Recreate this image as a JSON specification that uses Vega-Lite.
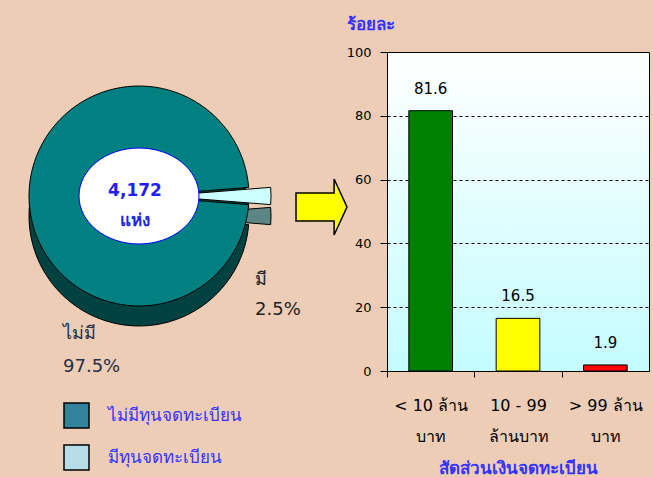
{
  "$schema": "https://vega.github.io/schema/vega-lite/v6.json",
  "background": "#EDCDB5",
  "padding": {"left": 0, "top": 14, "right": 4, "bottom": 0},
  "spacing": 0,
  "bounds": "flush",
  "resolve": {"scale": {"color": "independent", "theta": "independent"}, "legend": {"color": "independent"}},
  "config": {"font": "DejaVu Sans, Tahoma, sans-serif", "view": {"stroke": null}},
  "hconcat": [
    {
      "width": 278,
      "height": 288,
      "view": {"stroke": null, "fill": "#EDCDB5"},
      "data": {"values": [
        {"status": "มี", "legend": "มีทุนจดทะเบียน", "pct": 2.5, "order": 1, "label": "มี\n2.5%"},
        {"status": "ไม่มี", "legend": "ไม่มีทุนจดทะเบียน", "pct": 97.5, "order": 2, "label": "ไม่มี\n97.5%"}
      ]},
      "layer": [
        {
          "transform": [{"stack": "pct", "groupby": [], "sort": [{"field": "order", "order": "ascending"}], "as": ["p0", "p1"]}, {"filter": "datum.status == 'ไม่มี'"}],
          "mark": {"type": "arc", "radius": 110, "yOffset": 20, "fill": "#004242", "stroke": "#000", "strokeWidth": 1},
          "encoding": {"theta": {"field": "p0", "type": "quantitative", "scale": {"domain": [0, 100], "range": [1.4923, 7.7755]}}, "theta2": {"field": "p1"}}
        },
        {
          "transform": [{"stack": "pct", "groupby": [], "sort": [{"field": "order", "order": "ascending"}], "as": ["p0", "p1"]}, {"filter": "datum.status == 'มี'"}],
          "mark": {"type": "arc", "radius": 110, "xOffset": 22, "yOffset": 20, "fill": "#5E8585", "stroke": "#000", "strokeWidth": 1},
          "encoding": {"theta": {"field": "p0", "type": "quantitative", "scale": {"domain": [0, 100], "range": [1.4923, 7.7755]}}, "theta2": {"field": "p1"}}
        },
        {
          "transform": [{"stack": "pct", "groupby": [], "sort": [{"field": "order", "order": "ascending"}], "as": ["p0", "p1"]}, {"filter": "datum.status == 'ไม่มี'"}],
          "mark": {"type": "arc", "radius": 110, "fill": "#008080", "stroke": "#000", "strokeWidth": 1},
          "encoding": {"theta": {"field": "p0", "type": "quantitative", "scale": {"domain": [0, 100], "range": [1.4923, 7.7755]}}, "theta2": {"field": "p1"}}
        },
        {
          "transform": [{"stack": "pct", "groupby": [], "sort": [{"field": "order", "order": "ascending"}], "as": ["p0", "p1"]}, {"filter": "datum.status == 'มี'"}],
          "mark": {"type": "arc", "radius": 110, "xOffset": 22, "fill": "#CCFFFF", "stroke": "#000", "strokeWidth": 1},
          "encoding": {"theta": {"field": "p0", "type": "quantitative", "scale": {"domain": [0, 100], "range": [1.4923, 7.7755]}}, "theta2": {"field": "p1"}}
        },
        {
          "transform": [{"stack": "pct", "groupby": [], "sort": [{"field": "order", "order": "ascending"}], "as": ["p0", "p1"]}],
          "mark": {"type": "arc", "radius": 110, "opacity": 0},
          "encoding": {
            "theta": {"field": "p0", "type": "quantitative", "scale": {"domain": [0, 100], "range": [1.4923, 7.7755]}},
            "theta2": {"field": "p1"},
            "color": {
              "field": "legend", "type": "nominal",
              "scale": {"domain": ["ไม่มีทุนจดทะเบียน", "มีทุนจดทะเบียน"], "range": ["#31849B", "#B7DEE8"]},
              "legend": {"orient": "none", "legendX": 63, "legendY": 350, "title": null, "symbolType": "square", "symbolSize": 625, "symbolStrokeColor": "#000", "symbolStrokeWidth": 1.5, "symbolOpacity": 1, "labelColor": "#3333FF", "labelFontSize": 17, "labelOffset": 18, "rowPadding": 11, "labelLimit": 300}
            }
          }
        },
        {
          "data": {"values": [{"label": "4,172\nแห่ง"}]},
          "layer": [
            {
              "mark": {"type": "point", "shape": "M -1 0 A 1 0.8 0 1 1 1 0 A 1 0.8 0 1 1 -1 0 Z", "size": 14400, "filled": true, "fill": "#FFFFFF", "stroke": "#0000FF", "strokeWidth": 1, "opacity": 1},
              "encoding": {}
            },
            {
              "mark": {"type": "text", "lineBreak": "\n", "lineHeight": 30, "baseline": "middle", "align": "center", "dx": -4, "dy": -5, "fontSize": 17, "fontWeight": "bold", "color": "#2222EE"},
              "encoding": {"text": {"field": "label"}}
            }
          ]
        },
        {
          "mark": {"type": "text", "radius": 116, "dy": 84, "align": "left", "baseline": "middle", "lineBreak": "\n", "lineHeight": 30, "fontSize": 18, "color": "#222222"},
          "encoding": {
            "theta": {"field": "pct", "type": "quantitative", "stack": true, "scale": {"domain": [0, 100], "range": [1.4923, 7.7755]}},
            "order": {"field": "order"},
            "text": {"condition": {"test": "datum.status == 'มี'", "field": "label"}, "value": ""}
          }
        },
        {
          "mark": {"type": "text", "radius": 76, "dy": 138, "align": "left", "baseline": "middle", "lineBreak": "\n", "lineHeight": 33, "fontSize": 18, "color": "#22304A"},
          "encoding": {
            "theta": {"field": "pct", "type": "quantitative", "stack": true, "scale": {"domain": [0, 100], "range": [1.4923, 7.7755]}},
            "order": {"field": "order"},
            "text": {"condition": {"test": "datum.status == 'ไม่มี'", "field": "label"}, "value": ""}
          }
        }
      ]
    },
    {
      "width": 109,
      "height": 310,
      "view": {"stroke": null, "fill": null},
      "data": {"values": [{"shape": "arrow"}]},
      "mark": {"type": "point", "shape": "M -0.91 -0.5 L 0.45 -0.5 L 0.45 -1 L 0.91 0 L 0.45 1 L 0.45 0.5 L -0.91 0.5 Z", "size": 3136, "filled": true, "fill": "#FFFF00", "stroke": "#000", "strokeWidth": 1.5, "opacity": 1, "xOffset": -11},
      "encoding": {}
    },
    {
      "width": 262,
      "height": 319,
      "view": {"stroke": "#000", "strokeWidth": 1, "fill": {"gradient": "linear", "x1": 0, "y1": 0, "x2": 0, "y2": 1, "stops": [{"offset": 0, "color": "#FFFFFF"}, {"offset": 1, "color": "#C4FCFF"}]}},
      "data": {"values": [
        {"group": "< 10 ล้าน|บาท", "pct": 81.6},
        {"group": "10 - 99|ล้านบาท", "pct": 16.5},
        {"group": "> 99 ล้าน|บาท", "pct": 1.9}
      ]},
      "encoding": {
        "x": {
          "field": "group", "type": "nominal", "sort": null,
          "scale": {"paddingInner": 0.5, "paddingOuter": 0.25},
          "axis": {"title": "สัดส่วนเงินจดทะเบียน", "titleColor": "#3333FF", "titleFontSize": 17, "titleFontWeight": "bold", "titlePadding": 16, "labelExpr": "split(datum.label, '|')", "labelAngle": 0, "labelFontSize": 16, "labelLineHeight": 31, "labelPadding": 20, "labelColor": "#000", "tickOffset": -43.67, "labelOffset": 43.67, "tickSize": 6, "tickColor": "#000", "domainColor": "#000", "grid": false}
        },
        "y": {
          "field": "pct", "type": "quantitative",
          "scale": {"domain": [0, 100]},
          "axis": {"values": [0, 20, 40, 60, 80, 100], "title": "ร้อยละ", "titleAngle": 0, "titleAlign": "left", "titleX": -41, "titleY": -23, "titleBaseline": "alphabetic", "titleColor": "#3333FF", "titleFontSize": 17, "titleFontWeight": "bold", "labelFontSize": 13, "labelColor": "#000", "labelPadding": 9, "tickColor": "#000", "tickSize": 7, "domainColor": "#000", "grid": true, "gridColor": "#000", "gridDash": [3, 3], "gridOpacity": 1}
        }
      },
      "layer": [
        {
          "mark": {"type": "bar", "stroke": "#000", "strokeWidth": 1},
          "encoding": {"color": {"field": "group", "type": "nominal", "sort": null, "scale": {"domain": ["< 10 ล้าน|บาท", "10 - 99|ล้านบาท", "> 99 ล้าน|บาท"], "range": ["#008000", "#FFFF00", "#FF0000"]}, "legend": null}}
        },
        {
          "mark": {"type": "text", "baseline": "bottom", "dy": -14, "fontSize": 15, "color": "#000"},
          "encoding": {"text": {"field": "pct", "type": "quantitative", "format": ".1f"}}
        }
      ]
    }
  ]
}
